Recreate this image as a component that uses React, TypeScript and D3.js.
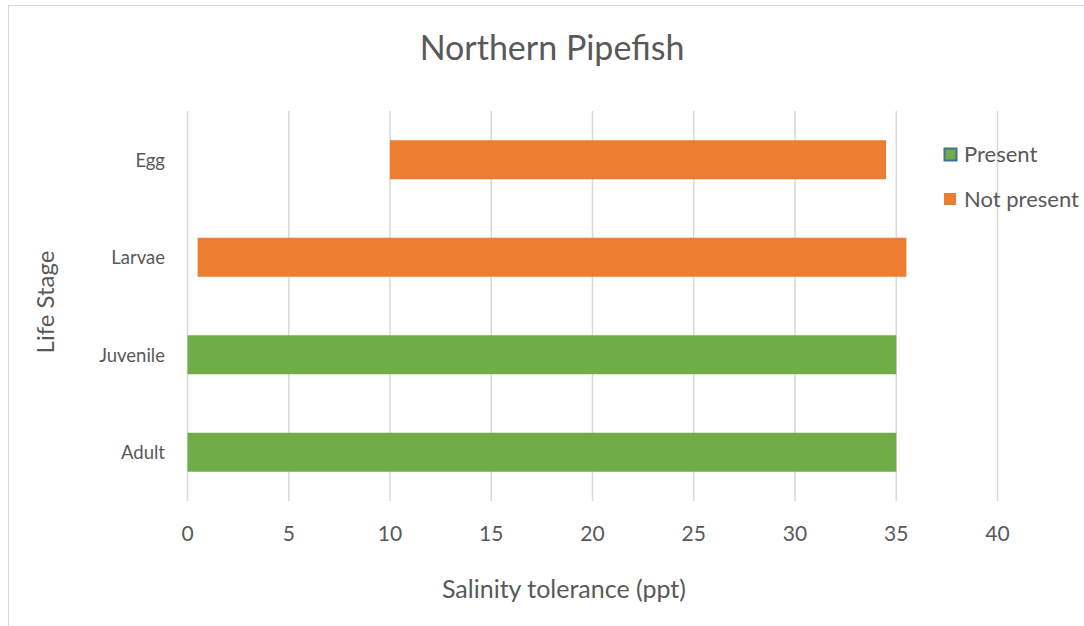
import React from "react";
import * as d3 from "d3";

const categories = ["Egg", "Larvae", "Juvenile", "Adult"];
const startValues = [10, 0.5, 0, 0];
const endValues = [34.5, 35.5, 35, 35];
const presence = ["Not present", "Not present", "Present", "Present"];
const xTicks = [0, 5, 10, 15, 20, 25, 30, 35, 40];
const legendItems = ["Present", "Not present"];

const W = 1084;
const H = 626;
const FONT = "Lato, 'Open Sans', sans-serif";
const TEXT = "#595959";
const GREEN = "#70AD47";
const ORANGE = "#ED7D31";

export default function App() {
  const x = d3.scaleLinear().domain([0, 40]).range([187.5, 997.5]);
  const y = d3.scaleBand().domain(categories).range([111, 501]).paddingInner(0.6).paddingOuter(0.3);
  const color = (p: string) => (p === "Present" ? GREEN : ORANGE);

  return (
    <svg width={W} height={H} style={{ position: "absolute", left: 0, top: 0 }}>
      <rect x={0} y={0} width={W} height={H} fill="#fff" />
      <rect x={8.5} y={5.5} width={W + 20} height={H + 20} fill="none" stroke="#d9d9d9" strokeWidth={1} />
      <text x={552} y={60} textAnchor="middle" fontFamily={FONT} fontSize={34} fill={TEXT}>
        Northern Pipefish
      </text>
      {xTicks.map((t) => (
        <line key={"g" + t} x1={x(t)} x2={x(t)} y1={111} y2={501} stroke="#d9d9d9" strokeWidth={1.5} />
      ))}
      {categories.map((c, i) => (
        <rect
          key={c}
          x={x(startValues[i])}
          y={y(c)}
          width={x(endValues[i]) - x(startValues[i])}
          height={y.bandwidth()}
          fill={color(presence[i])}
        />
      ))}
      {xTicks.map((t) => (
        <text key={"t" + t} x={x(t)} y={541} textAnchor="middle" fontFamily={FONT} fontSize={21} fill={TEXT}>
          {t}
        </text>
      ))}
      {categories.map((c) => (
        <text key={"c" + c} x={165} y={(y(c) as number) + y.bandwidth() / 2 + 7} textAnchor="end" fontFamily={FONT} fontSize={18.5} fill={TEXT}>
          {c}
        </text>
      ))}
      <text x={564} y={598} textAnchor="middle" fontFamily={FONT} fontSize={25} fill={TEXT}>
        Salinity tolerance (ppt)
      </text>
      <text transform="translate(54,302) rotate(-90)" textAnchor="middle" fontFamily={FONT} fontSize={24} fill={TEXT}>
        Life Stage
      </text>
      {legendItems.map((l, i) => (
        <g key={l} transform={`translate(944, ${148 + i * 45})`}>
          {l === "Present" ? (
            <rect x={0.5} y={0.5} width={12} height={12} fill={GREEN} stroke="#41719C" strokeWidth={2} />
          ) : (
            <rect x={0} y={0} width={12} height={12} fill={ORANGE} />
          )}
          <text x={20} y={14} fontFamily={FONT} fontSize={22} fill={TEXT}>
            {l}
          </text>
        </g>
      ))}
    </svg>
  );
}
